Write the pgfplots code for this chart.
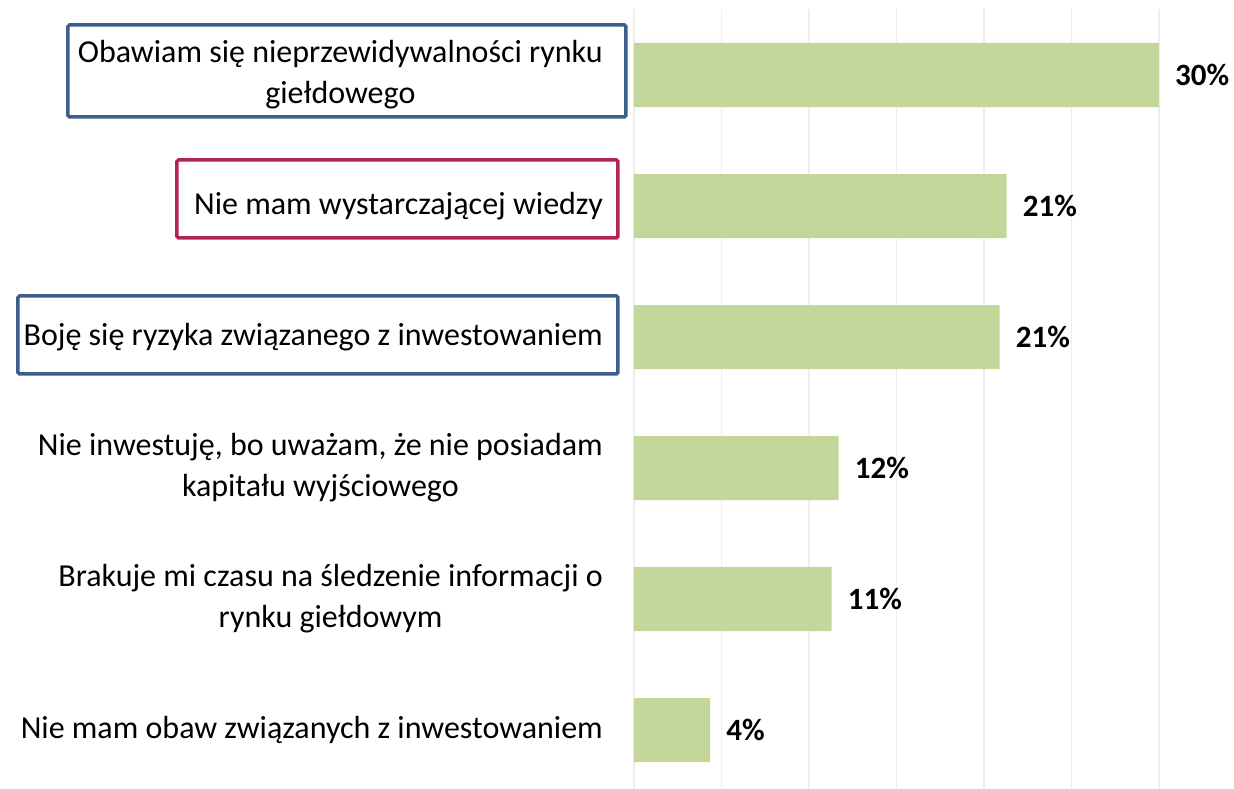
\documentclass[border=0pt]{standalone}
\usepackage{pgfplots}
\pgfplotsset{compat=1.18}
\usepackage{fontspec}
\setmainfont{Carlito}
\definecolor{bargreen}{HTML}{C4D79B}
\definecolor{boxblue}{HTML}{3C5E8C}
\definecolor{boxred}{HTML}{B3235A}
\definecolor{gridc}{HTML}{EEEEEE}
\definecolor{axisc}{HTML}{D9D9D9}
\begin{document}
\begin{tikzpicture}
\useasboundingbox (-634pt,6.5pt) rectangle (600pt,795.5pt);
\begin{axis}[
  at={(0,0)}, anchor=south west,
  scale only axis,
  width=525pt, height=786pt,
  xmin=0, xmax=30,
  ymin=-0.5, ymax=5.5,
  y dir=reverse,
  xbar, bar width=64pt,
  axis line style={draw=none},
  xtick={5,10,...,30}, xticklabels={},
  xmajorgrids, major grid style={color=gridc, line width=1.2pt},
  extra x ticks={0}, extra x tick labels={},
  extra x tick style={grid style={color=axisc, line width=1.5pt}},
  major tick length=0pt,
  ytick={0,1,2,3,4,5},
  yticklabels={
    {Obawiam się nieprzewidywalności rynku\\giełdowego},
    {Nie mam wystarczającej wiedzy},
    {Boję się ryzyka związanego z inwestowaniem},
    {Nie inwestuję, bo uważam, że nie posiadam\\kapitału wyjściowego},
    {Brakuje mi czasu na śledzenie informacji o\\rynku giełdowym},
    {Nie mam obaw związanych z inwestowaniem}},
  yticklabel style={font=\fontsize{32}{41}\selectfont, align=center, inner sep=0pt, xshift=-31pt},
  /pgf/number format/assume math mode=true,
  nodes near coords={\pgfmathprintnumber[fixed,precision=0,assume math mode=true]{\pgfplotspointmeta}\%},
  nodes near coords style={font=\fontsize{31}{36}\selectfont\bfseries, anchor=west, inner sep=0pt, xshift=16pt},
  clip=false,
]
\addplot[fill=bargreen, draw=none] coordinates {
  (30.0,0) (21.3,1) (20.9,2) (11.7,3) (11.3,4) (4.35,5)};
\end{axis}
\draw[boxblue, line width=3.5pt, rounded corners=1.5pt] (-566pt,770.5pt) rectangle (-8pt,678.5pt);
\draw[boxred, line width=3.5pt, rounded corners=1.5pt] (-457pt,635.5pt) rectangle (-16pt,557.5pt);
\draw[boxblue, line width=3.5pt, rounded corners=1.5pt] (-616pt,499.5pt) rectangle (-16pt,421.5pt);
\end{tikzpicture}
\end{document}
